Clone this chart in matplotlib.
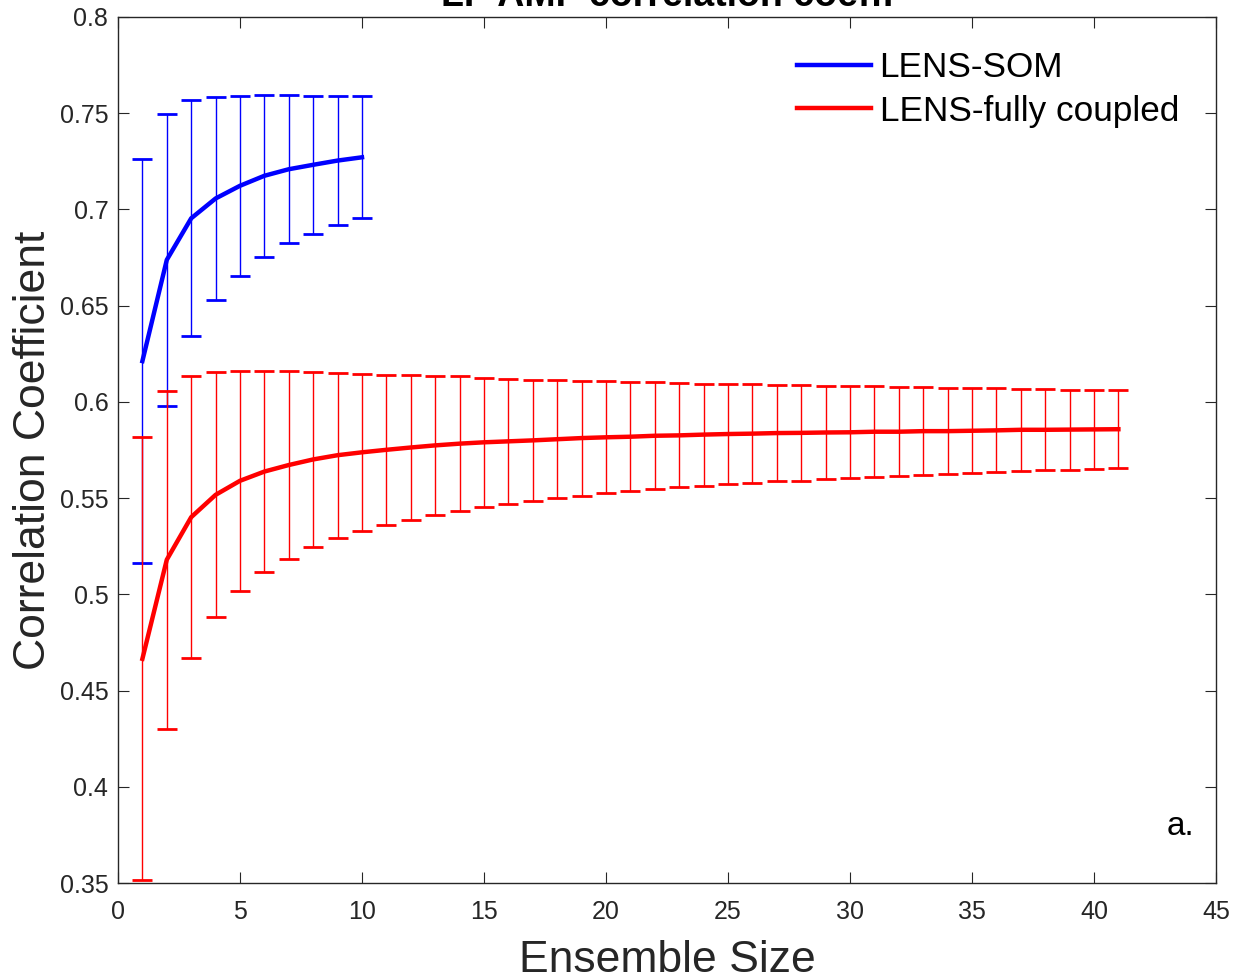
import matplotlib
matplotlib.use("Agg")
import matplotlib.pyplot as plt
from matplotlib.lines import Line2D

plt.rcParams['font.family'] = ['Liberation Sans', 'DejaVu Sans']

# Ensemble sizes
som_size = list(range(1, 11))
full_size = list(range(1, 42))

# LENS-SOM: mean correlation and half-width of spread
som_mean = [0.6212, 0.6738, 0.6954, 0.7057, 0.7123, 0.7175, 0.7209, 0.7232, 0.7254, 0.7271]
som_err = [0.1050, 0.0760, 0.0613, 0.0527, 0.0467, 0.0421, 0.0385, 0.0360, 0.0335, 0.0318]

# LENS-fully coupled: mean correlation and half-width of spread
full_mean = [0.4665, 0.5180, 0.5401, 0.5517, 0.5590, 0.5638, 0.5672, 0.5701, 0.5723, 0.5738,
             0.5751, 0.5763, 0.5774, 0.5783, 0.5790, 0.5795, 0.5800, 0.5806, 0.5812, 0.5816,
             0.5819, 0.5824, 0.5826, 0.5830, 0.5833, 0.5835, 0.5838, 0.5839, 0.5841, 0.5842,
             0.5845, 0.5845, 0.5848, 0.5848, 0.5850, 0.5852, 0.5855, 0.5855, 0.5856, 0.5857,
             0.5858]
full_err = [0.1150, 0.0878, 0.0731, 0.0637, 0.0572, 0.0524, 0.0486, 0.0456, 0.0429, 0.0409,
            0.0390, 0.0376, 0.0360, 0.0350, 0.0336, 0.0325, 0.0316, 0.0306, 0.0299, 0.0290,
            0.0284, 0.0277, 0.0270, 0.0265, 0.0259, 0.0256, 0.0250, 0.0248, 0.0243, 0.0239,
            0.0235, 0.0232, 0.0228, 0.0224, 0.0220, 0.0218, 0.0214, 0.0210, 0.0208, 0.0205,
            0.0203]

xticks = [0, 5, 10, 15, 20, 25, 30, 35, 40, 45]
yticks = [0.35, 0.4, 0.45, 0.5, 0.55, 0.6, 0.65, 0.7, 0.75, 0.8]
ytick_labels = ['0.35', '0.4', '0.45', '0.5', '0.55', '0.6', '0.65', '0.7', '0.75', '0.8']

fig = plt.figure(figsize=(12.34, 9.8), dpi=100)
ax = fig.add_axes([118/1234, 1 - 883/980, (1216-118)/1234, (883-17)/980])

ebkw = dict(capsize=7.5, capthick=2.0, elinewidth=1.0, clip_on=True)
ax.errorbar(som_size, som_mean, yerr=som_err, color='#0000ff', ecolor='#0000ff',
            linewidth=3.2, zorder=3, **ebkw)
ax.errorbar(full_size, full_mean, yerr=full_err, color='#ff0000', ecolor='#ff0000',
            linewidth=3.2, zorder=4, **ebkw)

ax.set_xlim(0, 45)
ax.set_ylim(0.35, 0.8)
ax.set_xticks(xticks)
ax.set_yticks(yticks)
ax.set_yticklabels(ytick_labels)

spine_col = '#262626'
for s in ax.spines.values():
    s.set_color(spine_col)
    s.set_linewidth(1.0)
ax.tick_params(direction='in', length=8, width=0.8, colors=spine_col,
               top=True, right=True, labelsize=18)
ax.tick_params(axis='x', pad=12)
ax.tick_params(axis='y', pad=7)
for lab in ax.get_xticklabels() + ax.get_yticklabels():
    lab.set_color('#262626')

ax.set_xlabel('Ensemble Size', fontsize=32, color='#262626', labelpad=12)
ax.set_ylabel('Correlation Coefficient', fontsize=32, color='#262626', labelpad=4)

fig.text(0.5405, 1 - 6/980, 'LP AMF correlation coeff.', ha='center', va='baseline',
         fontsize=27, fontweight='bold', color='#000000')

handles = [Line2D([], [], color='#0000ff', linewidth=3.2),
           Line2D([], [], color='#ff0000', linewidth=3.2)]
ax.legend(handles, ['LENS-SOM', 'LENS-fully coupled'], loc='upper right',
          frameon=False, fontsize=25.3, handlelength=2.1, handletextpad=0.25,
          labelspacing=0.3, borderaxespad=0.0, bbox_to_anchor=(0.979, 0.977))

ax.text(0.98, 0.055, 'a.', transform=ax.transAxes, ha='right', va='baseline',
        fontsize=24, color='#000000')

fig.savefig('out.png', dpi=100)
